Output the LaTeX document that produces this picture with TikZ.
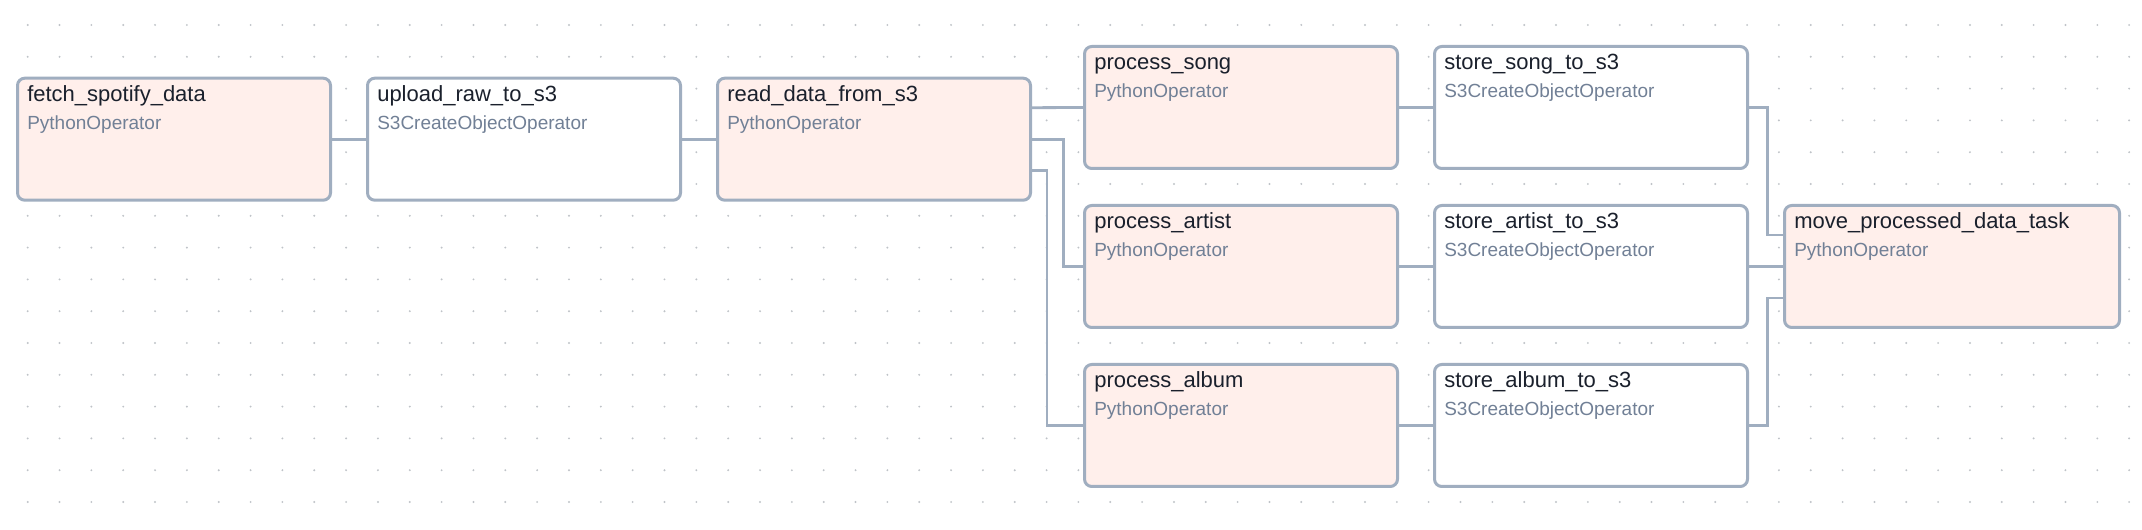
\documentclass[tikz,border=0pt]{standalone}
\usepackage{fontspec}
\setmainfont{Liberation Sans}
\usetikzlibrary{calc}
\definecolor{bordc}{HTML}{A0AEC0}
\definecolor{pyfill}{HTML}{FFEFEB}
\definecolor{subc}{HTML}{718096}
\definecolor{titc}{HTML}{1A202C}
\definecolor{dotc}{HTML}{BFC3C8}
\tikzset{
  taskbox/.style={draw=bordc, line width=2.25pt, rounded corners=5.5pt,
    minimum height=91.5pt, inner sep=0pt, outer sep=0pt, anchor=north west},
  pybox/.style={taskbox, fill=pyfill},
  s3box/.style={taskbox, fill=white},
  ttl/.style={anchor=base west, inner sep=0pt, text=titc, font=\fontsize{16.5pt}{19pt}\selectfont},
  sub/.style={anchor=base west, inner sep=0pt, text=subc, font=\fontsize{14.25pt}{17pt}\selectfont},
  conn/.style={draw=bordc, line width=2.1pt}
}
\newcommand\tasknode[7]{%
  \node[#5, minimum width=#4*0.75pt-2.25pt] (#1) at (#2+1.5, #3+1.5) {};
  \node[ttl] (#1-t) at ($(#1.north west)+(9.5,23.5)$) {#6};
  \node[sub] (#1-s) at ($(#1.north west)+(9.5,51.5)$) {#7};
}
\begin{document}
\begin{tikzpicture}[x=0.75pt, y=-0.75pt]
\useasboundingbox (0,0) rectangle (2142,530);
\fill[white] (0,0) rectangle (2142,530);
% dot grid
\foreach \i in {0,...,66} {
  \foreach \j in {0,...,15} {
    \fill[dotc] (27.7+31.84*\i, 25+31.8*\j) circle (0.8pt);
  }
}
\tasknode{fetch}{16}{76.7}{316}{pybox}{fetch\_spotify\_data}{PythonOperator}
\tasknode{upload}{366}{76.7}{316}{s3box}{upload\_raw\_to\_s3}{S3CreateObjectOperator}
\tasknode{read}{716}{76.7}{316}{pybox}{read\_data\_from\_s3}{PythonOperator}
\tasknode{psong}{1083}{45}{316}{pybox}{process\_song}{PythonOperator}
\tasknode{partist}{1083}{204}{316}{pybox}{process\_artist}{PythonOperator}
\tasknode{palbum}{1083}{363}{316}{pybox}{process\_album}{PythonOperator}
\tasknode{ssong}{1433}{45}{316}{s3box}{store\_song\_to\_s3}{S3CreateObjectOperator}
\tasknode{sartist}{1433}{204}{316}{s3box}{store\_artist\_to\_s3}{S3CreateObjectOperator}
\tasknode{salbum}{1433}{363}{316}{s3box}{store\_album\_to\_s3}{S3CreateObjectOperator}
\tasknode{move}{1783}{204}{338}{pybox}{move\_processed\_data\_task}{PythonOperator}
% connector anchor points
\coordinate (r1) at ($(read.east)+(0,-31.5)$);
\coordinate (r3) at ($(read.east)+(0,31.5)$);
\coordinate (m1) at ($(move.west)+(0,-31.5)$);
\coordinate (m3) at ($(move.west)+(0,31.5)$);
\coordinate (r2k) at ($(read.east)+(33,0)$);
\coordinate (r3k) at ($(r3)+(16.5,0)$);
\coordinate (m1k) at ($(m1)+(-17,0)$);
\coordinate (m3k) at ($(m3)+(-17,0)$);
\draw[conn] (fetch.east) -- (upload.west);
\draw[conn] (upload.east) -- (read.west);
\draw[conn] (r1 -| read.east) -- (psong.west);
\draw[conn] (read.east) -- (r2k) |- (partist.west);
\draw[conn] (r3) -- (r3k) |- (palbum.west);
\draw[conn] (psong.east) -- (ssong.west);
\draw[conn] (partist.east) -- (sartist.west);
\draw[conn] (palbum.east) -- (salbum.west);
\draw[conn] (ssong.east) -| (m1k) -- (m1);
\draw[conn] (sartist.east) -- (move.west);
\draw[conn] (salbum.east) -| (m3k) -- (m3);
\end{tikzpicture}
\end{document}
